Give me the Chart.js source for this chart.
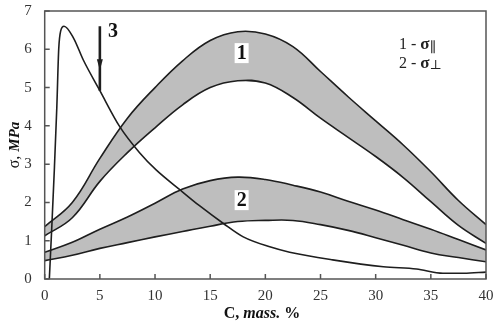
<!DOCTYPE html>
<html>
<head>
<meta charset="utf-8">
<script src="https://cdn.jsdelivr.net/npm/chart.js@4.4.0/dist/chart.umd.min.js"></script>
<style>
  html, body { margin: 0; padding: 0; background: #fff; }
  #wrap { width: 503px; height: 333px; }
</style>
</head>
<body>
<div id="wrap"><canvas id="chart" width="503" height="333"></canvas></div>
<script>
// 1. Data
// concentration grid shared by both bands, mass. %
const bandC = [0, 2.5, 5, 7.5, 10, 12.5, 15, 17.5, 20, 22.5, 25, 27.5, 30, 32.5, 35, 37.5, 40];
// band 1 : sigma parallel, upper / lower edge, MPa
const par_hi = [1.37, 2.0, 3.15, 4.2, 5.0, 5.7, 6.23, 6.46, 6.4, 6.07, 5.42, 4.76, 4.13, 3.5, 2.8, 2.05, 1.42];
const par_lo = [1.13, 1.6, 2.55, 3.3, 3.95, 4.55, 5.0, 5.18, 5.12, 4.74, 4.2, 3.7, 3.2, 2.65, 2.02, 1.4, 0.93];
// band 2 : sigma perpendicular
const perp_hi = [0.7, 0.96, 1.3, 1.62, 1.98, 2.35, 2.57, 2.66, 2.6, 2.45, 2.27, 2.03, 1.8, 1.55, 1.3, 1.03, 0.76];
const perp_lo = [0.48, 0.62, 0.8, 0.95, 1.1, 1.24, 1.38, 1.5, 1.53, 1.53, 1.42, 1.27, 1.08, 0.88, 0.68, 0.56, 0.45];
// curve 3
const curve3C = [0.42, 0.65, 0.88, 1.1, 1.27, 1.45, 1.75, 2.6, 3.5, 5.0, 6.8, 8.6, 10.1, 12.3, 14.0, 16.2, 18.0, 20.4, 22.2, 26.1, 30.7, 33.7, 36.1, 38.0, 40.0];
const curve3S = [0, 1.4, 2.9, 4.5, 6.0, 6.48, 6.6, 6.3, 5.72, 4.92, 3.98, 3.3, 2.85, 2.32, 1.92, 1.45, 1.1, 0.84, 0.7, 0.5, 0.32, 0.26, 0.15, 0.15, 0.18];
// arrow marking point 3
const arrowC = 5;
const arrowTop = 6.6;
const arrowEnd = 4.92;
const arrowTip = 5.45;

const xTicks = [0, 5, 10, 15, 20, 25, 30, 35, 40];
const yTicks = [0, 1, 2, 3, 4, 5, 6, 7];

// curve labels, in data coordinates
const curveLabels = [
    { text: '1', c: 17.85, s: 5.9, box: true },
    { text: '2', c: 17.85, s: 2.06, box: true },
    { text: '3', c: 6.2, s: 6.47, box: false }
];

const SERIF = '"Liberation Serif", "DejaVu Serif", serif';
const LINE = '#1e1e1e';
const BAND = '#bebebe';

function pts(xs, ys) {
    return xs.map((x, i) => ({ x: x, y: ys[i] }));
}

// draw a row of differently styled text pieces
function drawRuns(ctx, runs, x, y, align) {
    let total = 0;
    runs.forEach(r => { ctx.font = r.font; r.w = ctx.measureText(r.t).width; total += r.w; });
    let cx = align === 'center' ? x - total / 2 : x;
    ctx.textBaseline = 'middle';
    ctx.textAlign = 'left';
    runs.forEach(r => {
        ctx.font = r.font;
        ctx.fillText(r.t, cx, y + (r.dy || 0));
        cx += r.w;
    });
}

// 2. Extra drawing: frame, inward ticks, arrow head, labels, titles
const decor = {
    id: 'decor',
    afterDraw(chart) {
        const ctx = chart.ctx;
        const a = chart.chartArea;
        const xs = chart.scales.x;
        const ys = chart.scales.y;
        ctx.save();

        // frame
        ctx.strokeStyle = '#555';
        ctx.lineWidth = 1.5;
        ctx.strokeRect(a.left, a.top, a.right - a.left, a.bottom - a.top);

        // inward ticks
        ctx.beginPath();
        xTicks.forEach(v => {
            const px = xs.getPixelForValue(v);
            ctx.moveTo(px, a.bottom);
            ctx.lineTo(px, a.bottom - 5);
        });
        yTicks.forEach(v => {
            const py = ys.getPixelForValue(v);
            ctx.moveTo(a.left, py);
            ctx.lineTo(a.left + 5, py);
        });
        ctx.stroke();

        // arrow head
        const ax = xs.getPixelForValue(arrowC);
        const tip = ys.getPixelForValue(arrowTip);
        ctx.fillStyle = LINE;
        ctx.beginPath();
        ctx.moveTo(ax, tip);
        ctx.lineTo(ax - 3, tip - 11);
        ctx.lineTo(ax + 3, tip - 11);
        ctx.closePath();
        ctx.fill();

        // curve labels
        curveLabels.forEach(l => {
            const px = xs.getPixelForValue(l.c);
            const py = ys.getPixelForValue(l.s);
            ctx.font = 'bold 20px ' + SERIF;
            if (l.box) {
                ctx.fillStyle = '#fff';
                ctx.fillRect(px - 7, py - 10, 14, 20);
            }
            ctx.fillStyle = '#111';
            ctx.textAlign = 'center';
            ctx.textBaseline = 'middle';
            ctx.fillText(l.text, px, py + 1);
        });

        // legend
        ctx.fillStyle = '#222';
        drawRuns(ctx, [
            { t: '1 - ', font: '16px ' + SERIF },
            { t: 'σ', font: 'bold 17px ' + SERIF },
            { t: '∥', font: '14px ' + SERIF, dy: 3 }
        ], 399, 45, 'left');
        drawRuns(ctx, [
            { t: '2 - ', font: '16px ' + SERIF },
            { t: 'σ', font: 'bold 17px ' + SERIF },
            { t: '⊥', font: '13px ' + SERIF, dy: 2 }
        ], 399, 64, 'left');

        // x title
        ctx.fillStyle = '#111';
        drawRuns(ctx, [
            { t: 'C, ', font: 'bold 16px ' + SERIF },
            { t: 'mass.', font: 'italic bold 16px ' + SERIF },
            { t: ' %', font: 'bold 16px ' + SERIF }
        ], 262, 314, 'center');

        // y title
        ctx.translate(15, 145);
        ctx.rotate(-Math.PI / 2);
        drawRuns(ctx, [
            { t: 'σ, ', font: '16px ' + SERIF },
            { t: 'MPa', font: 'italic bold 15px ' + SERIF }
        ], 0, 0, 'center');

        ctx.restore();
    }
};

// 3. Chart
const lineStyle = {
    borderColor: LINE,
    borderWidth: 1.6,
    pointRadius: 0,
    tension: 0.4
};

new Chart(document.getElementById('chart'), {
    type: 'line',
    data: {
        datasets: [
            Object.assign({ data: pts(curve3C, curve3S), fill: false }, lineStyle, { cubicInterpolationMode: 'monotone' }),
            Object.assign({ data: pts([arrowC, arrowC], [arrowTop, arrowEnd]), fill: false }, lineStyle, { borderWidth: 2.6 }),
            Object.assign({ data: pts(bandC, par_hi), fill: '+1', backgroundColor: BAND }, lineStyle),
            Object.assign({ data: pts(bandC, par_lo), fill: false }, lineStyle),
            Object.assign({ data: pts(bandC, perp_hi), fill: '+1', backgroundColor: BAND }, lineStyle),
            Object.assign({ data: pts(bandC, perp_lo), fill: false }, lineStyle)
        ]
    },
    options: {
        responsive: false,
        animation: false,
        devicePixelRatio: 1,
        layout: { padding: { top: 11, right: 17, left: 0, bottom: 0 } },
        plugins: {
            legend: { display: false },
            tooltip: { enabled: false },
            filler: { drawTime: 'beforeDatasetsDraw' }
        },
        scales: {
            x: {
                type: 'linear',
                min: 0, max: 40,
                afterFit: s => { s.height = 54; s.paddingLeft = 0; s.paddingRight = 0; },
                afterBuildTicks: s => { s.ticks = xTicks.map(v => ({ value: v })); },
                grid: { display: false, drawTicks: false },
                border: { display: false },
                ticks: { padding: 8, color: '#333', maxRotation: 0, font: { family: SERIF, size: 15 } }
            },
            y: {
                min: 0, max: 7,
                afterFit: s => { s.width = 44.7; s.paddingTop = 0; s.paddingBottom = 0; },
                afterBuildTicks: s => { s.ticks = yTicks.map(v => ({ value: v })); },
                grid: { display: false, drawTicks: false },
                border: { display: false },
                ticks: { padding: 13, color: '#333', font: { family: SERIF, size: 15 } }
            }
        }
    },
    plugins: [decor]
});
</script>
</body>
</html>
